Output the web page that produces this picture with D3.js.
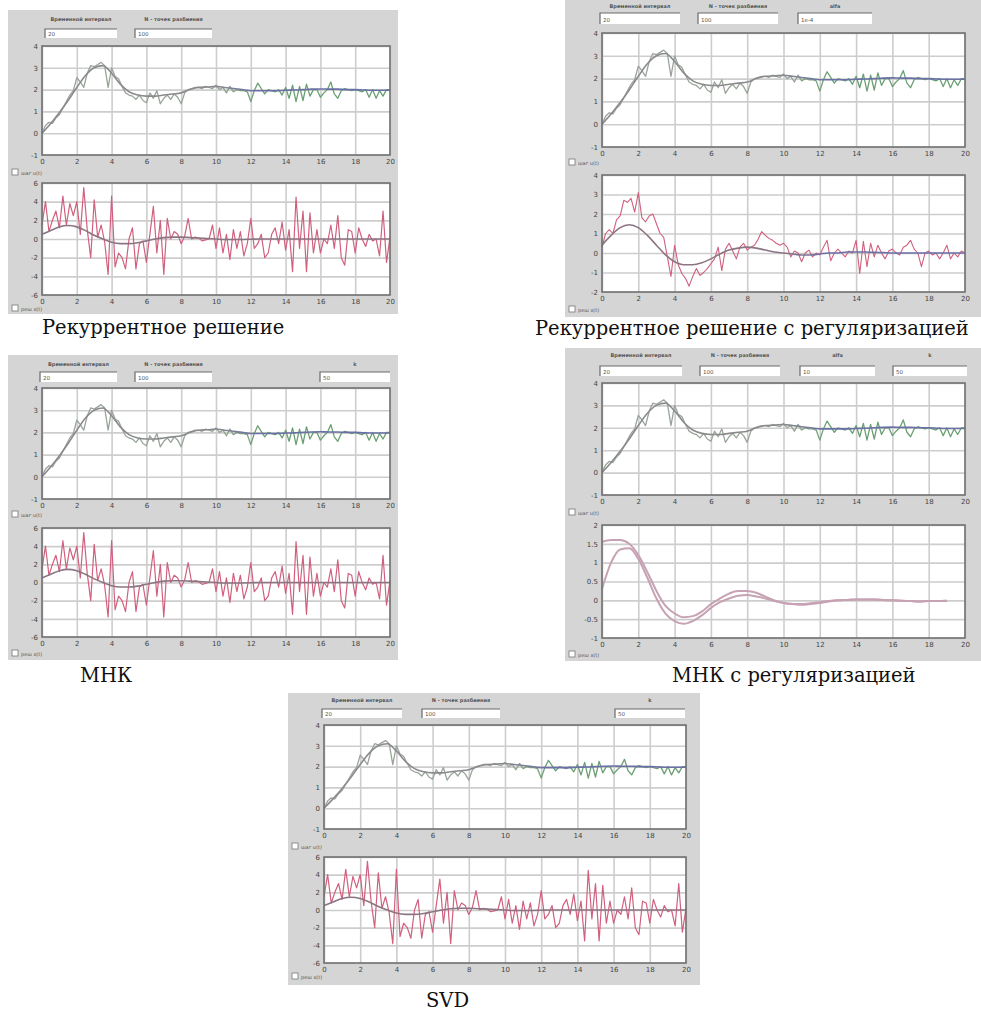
<!DOCTYPE html>
<html>
<head>
<meta charset="utf-8">
<script src="https://cdn.jsdelivr.net/npm/d3@7"></script>
<style>
  body { margin: 0; background: #fff; }
  svg { display: block; }
</style>
</head>
<body>
<svg id="fig" width="981" height="1011"></svg>
<script>
// sampling steps of the stored series (noisy ones at 0.2 s, smooth ones at 0.5 s)
const dtNoisy = 0.2;
const dtSmooth = 0.5;

const xTicks = [0, 2, 4, 6, 8, 10, 12, 14, 16, 18, 20];
const yTicksStep = [-1, 0, 1, 2, 3, 4];
const yTicksErr = [-6, -4, -2, 0, 2, 4, 6];
const yTicksReg = [-2, -1, 0, 1, 2, 3, 4];
const yTicksMnkReg = [-1, -0.5, 0, 0.5, 1, 1.5, 2];

// upper plots: measured step response (noisy) and model output
const measured = [
  0.0, 0.35, 0.5, 0.45, 0.7, 0.85, 1.15, 1.45, 1.75, 1.95,
  2.55, 2.35, 2.1, 2.75, 3.1, 3.05, 3.15, 3.25, 3.1, 2.1,
  3.0, 2.6, 2.5, 2.15, 1.85, 1.75, 1.7, 1.55, 1.75, 1.5,
  1.4, 1.85, 1.6, 1.95, 1.35, 1.6, 1.75, 1.55, 1.8, 1.65,
  1.35, 1.85, 2.0, 2.05, 2.1, 2.1, 2.05, 2.15, 2.1, 2.05,
  2.2, 2.0, 2.1, 1.85, 2.15, 1.9, 2.0, 1.95, 1.95, 1.9,
  1.45, 1.95, 2.3, 2.05, 1.8, 2.0, 1.95, 1.9, 2.0, 1.75,
  2.1, 1.6, 2.2, 1.45, 2.15, 1.5, 2.25, 1.7, 2.0, 2.0,
  1.65, 1.85, 2.0, 2.35, 1.8, 1.6, 1.95, 2.05, 2.0, 1.95,
  2.0, 1.95, 1.9, 2.0, 1.65, 2.0, 1.6, 1.95, 1.7, 2.0,
  2.0
];
const modelOut = [
  0.0, 0.45, 0.95, 1.5, 2.1, 2.65, 3.0, 3.1, 2.75, 2.25,
  1.9, 1.75, 1.7, 1.7, 1.75, 1.8, 1.85, 2.0, 2.1, 2.12,
  2.15, 2.1, 2.05, 2.0, 1.95, 1.95, 1.95, 1.95, 1.97, 1.98,
  2.0, 2.02, 2.03, 2.02, 2.02, 2.0, 2.0, 1.98, 1.97, 1.97,
  1.97
];

// lower plots of recurrent / МНК / SVD: noisy weights and smoothed estimate
const errNoisy = [
  1.5, 4.0, 0.8, 2.0, 3.0, 1.2, 4.6, 1.5, 3.8, 2.5,
  4.0, 0.5, 5.5, 1.0, -2.0, 4.2, 0.2, 1.5, -0.3, -3.8,
  4.6, -3.0, -1.5, -2.0, -3.2, 0.0, 1.2, -3.2, -0.5, -0.2,
  -2.5, 0.5, 3.5, -1.5, 2.0, -3.8, 2.2, 0.0, 0.8, 0.5,
  -0.5, 0.3, 2.2, 0.0, 0.2, 0.1, -0.2, -0.1, 0.0, 1.5,
  -1.0, 1.2, -1.5, 0.5, -2.2, 1.0, -1.0, 0.8, -1.8, -0.5,
  2.2, -1.0, -0.5, 0.5, -2.0, -1.5, 0.5, 1.2, -0.5, 1.8,
  -1.2, 1.0, -3.5, 4.5, -1.0, 3.0, -3.5, 2.8, -1.5, 1.0,
  -1.5, 0.0, -0.5, 1.5, -1.0, 2.5, -2.0, -2.8, 1.0, 0.8,
  -1.5, 1.2, 0.0, -0.8, 0.5, -0.2, 0.0, -1.8, 3.0, -2.5,
  0.2
];
const errSmooth = [
  0.5, 0.9, 1.3, 1.45, 1.3, 0.9, 0.4, 0.0, -0.35, -0.5,
  -0.5, -0.4, -0.2, 0.0, 0.15, 0.2, 0.2, 0.15, 0.1, 0.05,
  0.0, -0.05, -0.05, -0.05, -0.02, 0.0, 0.0, 0.0, 0.0, 0.0,
  0.0, 0.0, 0.0, 0.0, 0.0, 0.0, 0.0, 0.0, 0.0, 0.0,
  0.0
];

// recurrent solution with regularization, lower plot
const regNoisy = [
  0.3, 1.0, 1.2, 1.0, 1.7, 1.9, 2.7, 2.6, 2.8, 2.1,
  3.1, 1.8, 1.6, 1.9, 2.0, 1.5, 1.0, 0.8, -0.2, -1.2,
  0.4, -0.6, -1.05, -1.3, -1.7, -1.2, -0.8, -1.15, -1.0, -0.8,
  -0.55, -0.3, 0.3, -0.9, 0.2, 0.5, 0.1, -0.3, 0.3, 0.5,
  0.15, 0.3, 0.4, 0.7, 1.1, 0.9, 0.75, 0.65, 0.5, 0.4,
  0.5, 0.3, -0.2, 0.1, 0.0, -0.45, 0.0, 0.15, -0.2, 0.0,
  -0.1, 0.3, 0.65, -0.4, 0.0, 0.2, 0.0, -0.2, 0.1, 0.0,
  0.65, -1.05, 0.6, -0.7, 0.5, -0.2, 0.4, 0.0, -0.3, 0.1,
  0.2, 0.0, -0.1, 0.3, 0.4, 0.65, 0.2, 0.0, -0.7, 0.0,
  0.1, -0.1, 0.0, -0.3, 0.0, 0.4, -0.3, 0.0, -0.2, 0.1,
  0.0
];
const regSmooth = [
  0.4, 0.9, 1.3, 1.45, 1.3, 0.9, 0.4, -0.1, -0.45, -0.6,
  -0.6, -0.5, -0.3, -0.05, 0.15, 0.25, 0.3, 0.25, 0.15, 0.05,
  0.0, -0.05, -0.1, -0.1, -0.05, 0.0, 0.0, 0.05, 0.05, 0.05,
  0.03, 0.02, 0.0, 0.0, 0.0, 0.0, 0.0, 0.0, 0.0, 0.0,
  0.0
];

// МНК with regularization, lower plot (two smooth estimates, up to t = 19)
const mnkRegA = [
  1.55, 1.6, 1.6, 1.5, 1.2, 0.75, 0.25, -0.15, -0.35, -0.45,
  -0.42, -0.3, -0.1, 0.05, 0.18, 0.25, 0.25, 0.2, 0.1, 0.0,
  -0.07, -0.1, -0.1, -0.08, -0.05, -0.02, 0.0, 0.01, 0.02, 0.02,
  0.02, 0.01, 0.0, -0.01, -0.02, -0.03, -0.02, -0.02, -0.01
];
const mnkRegB = [
  0.3, 1.0, 1.35, 1.38, 1.1, 0.6, 0.05, -0.35, -0.55, -0.62,
  -0.55, -0.4, -0.2, -0.05, 0.05, 0.12, 0.14, 0.1, 0.05, -0.02,
  -0.07, -0.1, -0.12, -0.1, -0.07, -0.03, 0.0, 0.01, 0.02, 0.02,
  0.02, 0.01, 0.0, -0.01, -0.02, -0.03, -0.02, -0.02, -0.01
];

const fieldLabels = ['Временной интервал', 'N - точек разбиения', 'alfa', 'k'];
const captions = [
  'Рекуррентное решение',
  'Рекуррентное решение с регуляризацией',
  'МНК',
  'МНК с регуляризацией',
  'SVD'
];
const checkLabels = ['шаг u(t)', 'реш x(t)'];

const COL = {
  panel: '#d5d5d5',
  frame: '#707070',
  grid: '#cdcdcd',
  measA: '#98a498', measB: '#6a9f72',
  modelA: '#8a8a8e', modelB: '#6870a6',
  noisy: '#d0607e',
  smooth: '#8c7583',
  soft: '#c6a2b3'
};

// layout of the five dialog windows
const panels = [
  { grey: [8, 10, 390, 304], labelY: 19, boxY: 29, boxH: 9,
    boxes: [[45, 72, 0, '20'], [135, 77, 1, '100']],
    top: [42, 46, 348, 109], cb1: 173,
    bottom: [42, 183, 348, 112], cb2: 309,
    lower: 'err', caption: [42, 334] },
  { grey: [565, 0, 416, 317], labelY: 6, boxY: 13, boxH: 11,
    boxes: [[600, 80, 0, '20'], [698, 80, 1, '100'], [798, 74, 2, '1e-4']],
    top: [602, 33, 363, 114], cb1: 163,
    bottom: [602, 175, 363, 117], cb2: 310,
    lower: 'reg', caption: [535, 335] },
  { grey: [8, 355, 390, 305], labelY: 364, boxY: 372, boxH: 10,
    boxes: [[40, 77, 0, '20'], [135, 77, 1, '100'], [320, 70, 3, '50']],
    top: [42, 388, 348, 111], cb1: 515,
    bottom: [42, 528, 348, 109], cb2: 654,
    lower: 'err', caption: [80, 682] },
  { grey: [565, 348, 416, 313], labelY: 355, boxY: 366, boxH: 10,
    boxes: [[600, 82, 0, '20'], [700, 80, 1, '100'], [800, 75, 2, '10'], [893, 74, 3, '50']],
    top: [602, 383, 363, 112], cb1: 513,
    bottom: [602, 525, 363, 113], cb2: 655,
    lower: 'mnkreg', caption: [672, 682] },
  { grey: [288, 693, 412, 292], labelY: 700, boxY: 709, boxH: 9,
    boxes: [[322, 80, 0, '20'], [422, 78, 1, '100'], [615, 70, 3, '50']],
    top: [324, 725, 362, 104], cb1: 847,
    bottom: [324, 857, 362, 106], cb2: 977,
    lower: 'err', caption: [426, 1007] }
];

const svg = d3.select('#fig');
const defs = svg.append('defs');

// colour shift along x, as the faded lines in the screenshots turn green / blue after t ~ 11
function gradient(id, width, c0, c1) {
  const lg = defs.append('linearGradient')
    .attr('id', id)
    .attr('gradientUnits', 'userSpaceOnUse')
    .attr('x1', 0).attr('y1', 0).attr('x2', width).attr('y2', 0);
  lg.append('stop').attr('offset', 0.5).attr('stop-color', c0);
  lg.append('stop').attr('offset', 0.62).attr('stop-color', c1);
  return 'url(#' + id + ')';
}

function drawAxes(g, r, yTicks, yDom) {
  const x = d3.scaleLinear().domain([0, 20]).range([0, r[2]]);
  const y = d3.scaleLinear().domain(yDom).range([r[3], 0]);
  const fmt = d => String(d);

  g.append('rect')
    .attr('width', r[2]).attr('height', r[3])
    .attr('fill', '#fff');

  // grid
  g.append('g')
    .attr('transform', 'translate(0,' + r[3] + ')')
    .call(d3.axisBottom(x).tickValues(xTicks).tickSize(-r[3]).tickFormat(''))
    .call(s => s.select('.domain').remove())
    .selectAll('line').attr('stroke', COL.grid).attr('stroke-width', 1.6);
  g.append('g')
    .call(d3.axisLeft(y).tickValues(yTicks).tickSize(-r[2]).tickFormat(''))
    .call(s => s.select('.domain').remove())
    .selectAll('line').attr('stroke', COL.grid).attr('stroke-width', 1.6);

  // tick labels
  g.append('g')
    .attr('transform', 'translate(0,' + r[3] + ')')
    .call(d3.axisBottom(x).tickValues(xTicks).tickSize(0).tickPadding(4).tickFormat(fmt))
    .call(s => s.select('.domain').remove())
    .selectAll('text')
    .attr('font-family', 'DejaVu Sans').attr('font-size', 7).attr('fill', '#444');
  g.append('g')
    .call(d3.axisLeft(y).tickValues(yTicks).tickSize(0).tickPadding(4).tickFormat(fmt))
    .call(s => s.select('.domain').remove())
    .selectAll('text')
    .attr('font-family', 'DejaVu Sans').attr('font-size', 7).attr('fill', '#444');

  return { x: x, y: y };
}

function frame(g, r) {
  g.append('rect')
    .attr('width', r[2]).attr('height', r[3])
    .attr('fill', 'none')
    .attr('stroke', COL.frame).attr('stroke-width', 1.6);
}

function plotSeries(g, sc, values, step, color, width, curve) {
  const line = d3.line()
    .x((d, i) => sc.x(i * step))
    .y(d => sc.y(d))
    .curve(curve || d3.curveLinear);
  g.append('path')
    .attr('d', line(values))
    .attr('fill', 'none')
    .attr('stroke', color)
    .attr('stroke-width', width)
    .attr('stroke-linejoin', 'round');
}

function checkbox(x, y, label) {
  svg.append('rect')
    .attr('x', x).attr('y', y - 4).attr('width', 6).attr('height', 6)
    .attr('fill', '#fff').attr('stroke', '#777').attr('stroke-width', 0.8);
  svg.append('text')
    .attr('x', x + 9).attr('y', y + 2)
    .attr('font-family', 'DejaVu Sans').attr('font-size', 5)
    .attr('fill', '#555')
    .text(label);
}

panels.forEach(function(p, k) {
  // window background
  svg.append('rect')
    .attr('x', p.grey[0]).attr('y', p.grey[1])
    .attr('width', p.grey[2]).attr('height', p.grey[3])
    .attr('fill', COL.panel);

  // edit fields with their labels
  p.boxes.forEach(function(b) {
    svg.append('text')
      .attr('x', b[0] + b[1] / 2).attr('y', p.labelY + 2)
      .attr('text-anchor', 'middle')
      .attr('font-family', 'DejaVu Sans').attr('font-size', 5)
      .attr('font-weight', 'bold')
      .attr('fill', '#555')
      .text(fieldLabels[b[2]]);
    svg.append('rect')
      .attr('x', b[0]).attr('y', p.boxY)
      .attr('width', b[1]).attr('height', p.boxH)
      .attr('fill', '#fff');
    svg.append('path')
      .attr('d', 'M' + b[0] + ',' + (p.boxY + p.boxH) + 'V' + p.boxY + 'H' + (b[0] + b[1]))
      .attr('fill', 'none').attr('stroke', '#6a6a6a').attr('stroke-width', 1.2);
    svg.append('text')
      .attr('x', b[0] + 3).attr('y', p.boxY + p.boxH - 2)
      .attr('font-family', 'DejaVu Sans').attr('font-size', 5.5)
      .attr('fill', '#555')
      .text(b[3]);
  });

  // upper plot: response
  const gt = svg.append('g').attr('transform', 'translate(' + p.top[0] + ',' + p.top[1] + ')');
  const st = drawAxes(gt, p.top, yTicksStep, [-1, 4]);
  plotSeries(gt, st, measured, dtNoisy,
    gradient('meas' + k, p.top[2], COL.measA, COL.measB), 1.3);
  plotSeries(gt, st, modelOut, dtSmooth,
    gradient('model' + k, p.top[2], COL.modelA, COL.modelB), 1.6, d3.curveMonotoneX);
  frame(gt, p.top);

  checkbox(p.grey[0] + 4, p.cb1, checkLabels[0]);

  // lower plot: estimated weights
  const gb = svg.append('g').attr('transform', 'translate(' + p.bottom[0] + ',' + p.bottom[1] + ')');
  if (p.lower === 'err') {
    const sb = drawAxes(gb, p.bottom, yTicksErr, [-6, 6]);
    plotSeries(gb, sb, errNoisy, dtNoisy, COL.noisy, 1.2);
    plotSeries(gb, sb, errSmooth, dtSmooth, COL.smooth, 1.6, d3.curveMonotoneX);
  } else if (p.lower === 'reg') {
    const sb = drawAxes(gb, p.bottom, yTicksReg, [-2, 4]);
    plotSeries(gb, sb, regNoisy, dtNoisy, COL.noisy, 1.1);
    plotSeries(gb, sb, regSmooth, dtSmooth,
      gradient('reg' + k, p.bottom[2], COL.smooth, COL.modelB), 1.6, d3.curveMonotoneX);
  } else {
    const sb = drawAxes(gb, p.bottom, yTicksMnkReg, [-1, 2]);
    plotSeries(gb, sb, mnkRegA, dtSmooth, COL.soft, 2, d3.curveMonotoneX);
    plotSeries(gb, sb, mnkRegB, dtSmooth, COL.soft, 2, d3.curveMonotoneX);
  }
  frame(gb, p.bottom);

  checkbox(p.grey[0] + 4, p.cb2, checkLabels[1]);

  // caption under the window
  svg.append('text')
    .attr('x', p.caption[0]).attr('y', p.caption[1])
    .attr('font-family', 'DejaVu Serif').attr('font-size', 19.5)
    .attr('fill', '#111')
    .text(captions[k]);
});
</script>
</body>
</html>
